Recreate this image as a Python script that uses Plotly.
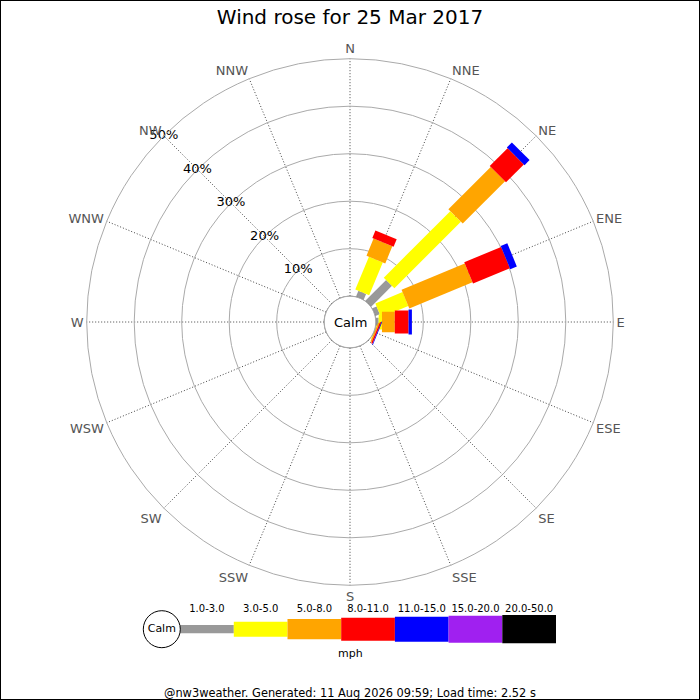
import plotly.graph_objects as go

# ---------------- data ----------------
directions = ["N", "NNE", "NE", "ENE", "E", "ESE", "SE", "SSE",
              "S", "SSW", "SW", "WSW", "W", "WNW", "NW", "NNW"]
dir_angles = [i * 22.5 for i in range(16)]
bins = ["1.0-3.0", "3.0-5.0", "5.0-8.0", "8.0-11.0", "11.0-15.0", "15.0-20.0", "20.0-50.0"]

# percentage frequency per direction for each speed bin (mph)
f_1_3   = [0, 1.3, 6.2, 1.0, 0.6, 0.0, 0, 0, 0, 0, 0, 0, 0, 0, 0, 0]
f_3_5   = [0, 7.5, 19.8, 6.2, 0.7, 0.1, 0, 0, 0, 0, 0, 0, 0, 0, 0, 0]
f_5_8   = [0, 3.9, 12.6, 14.4, 2.7, 0.3, 0, 0, 0, 0, 0, 0, 0, 0, 0, 0]
f_8_11  = [0, 1.7, 5.3, 8.4, 2.9, 0.3, 0, 0, 0, 0, 0, 0, 0, 0, 0, 0]
f_11_15 = [0, 0.0, 1.5, 1.5, 0.7, 0.15, 0, 0, 0, 0, 0, 0, 0, 0, 0, 0]
f_15_20 = [0] * 16
f_20_50 = [0] * 16
series = [f_1_3, f_3_5, f_5_8, f_8_11, f_11_15, f_15_20, f_20_50]

radial_ticks = [10, 20, 30, 40, 50]
radial_labels = ["10%", "20%", "30%", "40%", "50%"]

# ---------------- style ----------------
colors = ["#999999", "#ffff00", "#ffa500", "#ff0000", "#0000ff", "#a020f0", "#000000"]
bar_px = [8.3, 15, 20.3, 23, 25, 27, 28.3]   # bar thickness per bin (px)
FONT = "DejaVu Sans"

fig = go.Figure()

# stacked wind-rose bars as thick radial line segments
cum = [0.0] * 16
for k, vals in enumerate(series):
    rr, tt = [], []
    for i, v in enumerate(vals):
        if v > 0:
            rr += [cum[i], cum[i] + v, None]
            tt += [dir_angles[i], dir_angles[i], None]
            cum[i] += v
    if rr:
        fig.add_trace(go.Scatterpolar(
            r=rr, theta=tt, mode="lines", connectgaps=False,
            line=dict(color=colors[k], width=bar_px[k]),
            hoverinfo="skip", showlegend=False, cliponaxis=False,
        ))

# calm circle outline (radius 0 = hole edge)
circ_t = [i * 2 for i in range(181)]
fig.add_trace(go.Scatterpolar(
    r=[0] * len(circ_t), theta=circ_t, mode="lines",
    line=dict(color="#666666", width=1),
    hoverinfo="skip", showlegend=False, cliponaxis=False,
))

# radial tick labels along NW spoke
fig.add_trace(go.Scatterpolar(
    r=radial_ticks, theta=[315] * len(radial_ticks), mode="text",
    text=radial_labels, textposition="middle center",
    textfont=dict(family=FONT, size=13, color="#000000"),
    hoverinfo="skip", showlegend=False, cliponaxis=False,
))

# ---------------- legend strip (cartesian subplot) ----------------
idx = list(range(len(bins)))
fig.add_trace(go.Bar(
    x=idx, y=bar_px, base=[-h / 2 for h in bar_px], width=1,
    marker=dict(color=colors, line=dict(width=0)),
    xaxis="x2", yaxis="y2", hoverinfo="skip", showlegend=False,
))
fig.add_trace(go.Scatter(
    x=idx, y=[20] * len(idx), mode="text", text=bins,
    textfont=dict(family=FONT, size=10, color="#000000"),
    xaxis="x2", yaxis="y2", hoverinfo="skip", showlegend=False, cliponaxis=False,
))
fig.add_trace(go.Scatter(
    x=[-0.5 - 18.3 / 53.7], y=[0], mode="markers+text", text=["Calm"],
    textposition="middle center",
    textfont=dict(family=FONT, size=11, color="#000000"),
    marker=dict(symbol="circle", size=37, color="white",
                line=dict(color="black", width=1)),
    xaxis="x2", yaxis="y2", hoverinfo="skip", showlegend=False, cliponaxis=False,
))

cy = 1 - 322 / 700
fig.update_layout(
    width=700, height=700,
    margin=dict(l=0, r=0, t=0, b=0),
    paper_bgcolor="white", plot_bgcolor="white",
    font=dict(family=FONT, size=13, color="#000000"),
    title=dict(text="Wind rose for 25 Mar 2017", x=0.5, xanchor="center",
               y=1 - 17 / 700, yanchor="middle", yref="paper",
               font=dict(family=FONT, size=20, color="#000000")),
    polar=dict(
        domain=dict(x=[(350 - 263.3) / 700, (350 + 263.3) / 700],
                    y=[cy - 263.3 / 700, cy + 263.3 / 700]),
        hole=25.8 / 263.3,
        bgcolor="white",
        radialaxis=dict(range=[0, 50], tickvals=radial_ticks, showticklabels=False,
                        ticks="", showline=False, gridcolor="#aaaaaa", gridwidth=1),
        angularaxis=dict(rotation=90, direction="clockwise", thetaunit="degrees",
                         tickmode="array", tickvals=dir_angles, ticktext=directions,
                         ticks="", showline=True, linecolor="#aaaaaa", linewidth=1,
                         showgrid=True, gridcolor="#444444", gridwidth=1, griddash="1px,2px",
                         tickfont=dict(family=FONT, size=13, color="#555555")),
    ),
    xaxis2=dict(domain=[(556 - 7.5 * 53.7) / 700, 556 / 700], range=[-1.0, 6.5],
                visible=False, fixedrange=True, anchor="y2"),
    yaxis2=dict(domain=[(700 - 629.2 - 30) / 700, (700 - 629.2 + 30) / 700],
                range=[-30, 30], visible=False, fixedrange=True, anchor="x2"),
    annotations=[
        dict(text="Calm", x=0.5, y=cy, xref="paper", yref="paper",
             xanchor="center", yanchor="middle",
             showarrow=False, font=dict(family=FONT, size=13, color="#000000")),
        dict(text="mph", x=350.7 / 700, y=1 - 653.3 / 700, xref="paper", yref="paper",
             xanchor="center", yanchor="middle",
             showarrow=False, font=dict(family=FONT, size=11, color="#000000")),
        dict(text="@nw3weather. Generated: 11 Aug 2026 09:59; Load time: 2.52 s",
             x=0.5, y=1 - 693 / 700, xref="paper", yref="paper", showarrow=False,
             xanchor="center", yanchor="middle",
             font=dict(family=FONT, size=11.4, color="#000000")),
    ],
    shapes=[dict(type="rect", xref="paper", yref="paper", x0=0, y0=0, x1=1, y1=1,
                 line=dict(color="black", width=2))],
    showlegend=False,
)

fig.write_html("out.html", config={"displayModeBar": False},
               post_script="document.body.style.margin='0';document.body.style.overflow='hidden';")
